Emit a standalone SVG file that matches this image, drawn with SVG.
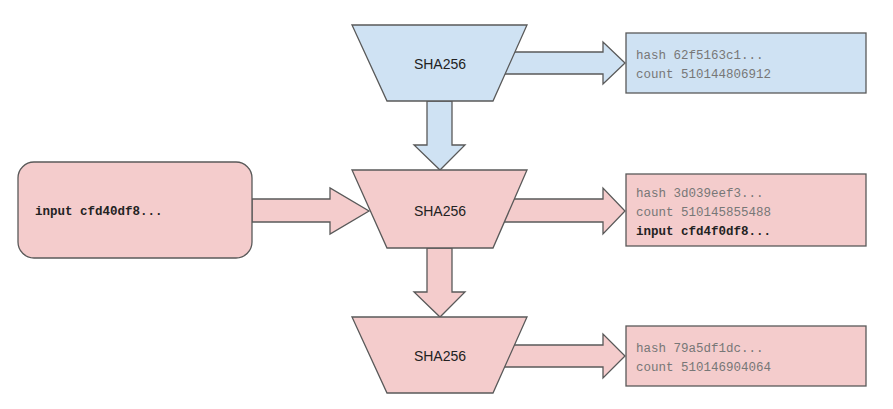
<svg xmlns="http://www.w3.org/2000/svg" width="893" height="409" viewBox="0 0 893 409">
<style>
.b{fill:#cfe2f3;stroke:#595959;stroke-width:1.3}
.p{fill:#f4cccc;stroke:#595959;stroke-width:1.3}
.t{font-family:"Liberation Sans",Arial,sans-serif;font-size:14px;fill:#222;text-anchor:middle}
.m{font-family:"Liberation Mono","Courier New",monospace;font-size:12.5px;fill:#777}
.bold{font-weight:bold;fill:#222}
</style>
<rect width="893" height="409" fill="#fff"/>
<g id="connectors">
<path class="b" d="M505 52H603V42L625 63L603 84V74H497Z"/>
<path class="b" d="M427 101V145H414L440 170L465 145H452V101Z"/>
<path class="p" d="M252 199H330V188L369 211L330 234V222H252Z"/>
<path class="p" d="M505 199H603V188L625 211L603 234V222H497Z"/>
<path class="p" d="M427 248V292H414L440 317L465 292H452V248Z"/>
<path class="p" d="M505 345H603V334L625 356L603 378V367H497Z"/>
</g>
<g id="sha1"><path class="b" d="M352 25H527L493 101H387Z"/><text class="t" x="440" y="69">SHA256</text></g>
<g id="sha2"><path class="p" d="M352 170H527L493 248H387Z"/><text class="t" x="440" y="216">SHA256</text></g>
<g id="sha3"><path class="p" d="M352 317H527L493 393H387Z"/><text class="t" x="440" y="361">SHA256</text></g>
<g id="input"><rect class="p" x="18" y="162" width="234" height="96" rx="16"/><text class="m bold" x="35" y="215">input cfd40df8...</text></g>
<g id="out1"><rect class="b" x="626" y="33" width="240" height="60"/><text class="m" x="636" y="59">hash  62f5163c1...</text><text class="m" x="636" y="78">count 510144806912</text></g>
<g id="out2"><rect class="p" x="626" y="174" width="240" height="72"/><text class="m" x="636" y="197">hash  3d039eef3...</text><text class="m" x="636" y="216">count 510145855488</text><text class="m bold" x="636" y="235">input cfd4f0df8...</text></g>
<g id="out3"><rect class="p" x="626" y="326" width="240" height="60"/><text class="m" x="636" y="352">hash  79a5df1dc...</text><text class="m" x="636" y="371">count 510146904064</text></g>
</svg>
